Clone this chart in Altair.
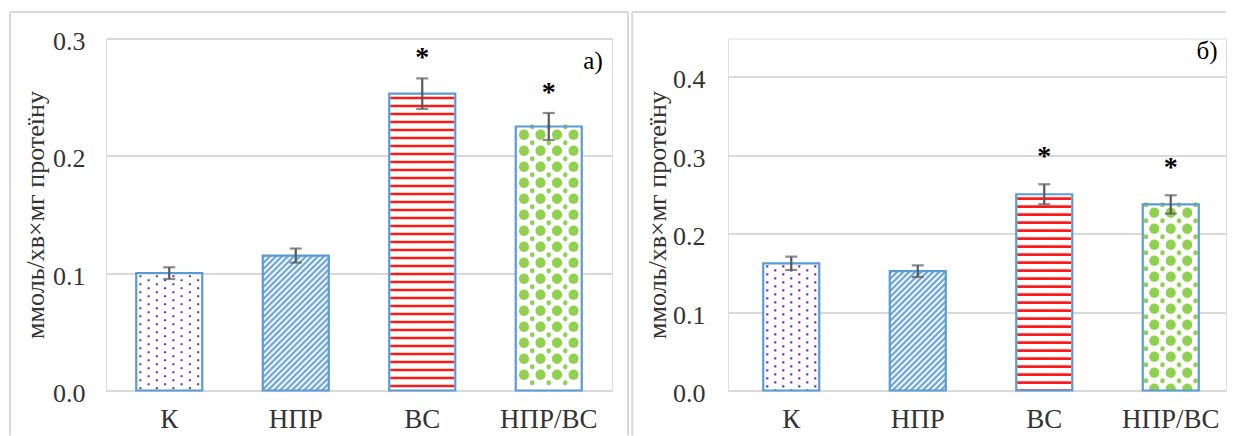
import altair as alt
import pandas as pd

# ---------------- data ----------------
categories = ["К", "НПР", "ВС", "НПР/ВС"]
values_a = [0.100, 0.115, 0.253, 0.225]
errors_a = [0.005, 0.006, 0.013, 0.0115]
values_b = [0.162, 0.152, 0.250, 0.237]
errors_b = [0.0085, 0.0074, 0.0127, 0.0117]
signif_a = ["", "", "*", "*"]
signif_b = ["", "", "*", "*"]
ticks_a = [0.0, 0.1, 0.2, 0.3]
ticks_b = [0.0, 0.1, 0.2, 0.3, 0.4]
y_title = "ммоль/хв×мг протеїну"
panel_names = ["а)", "б)"]

# ---------------- style ----------------
FONT = "Liberation Serif"
TEXT = "#333333"
GRID = "#d9d9d9"
BLUE = "#5b9bd5"
RED = "#ff1a1a"
GREEN = "#92d050"
PURPLE = "#7030a0"
ERR = "#595959"
H = 352
STEP = 126.5


def frame(values, errors, marks):
    df = pd.DataFrame({"cat": categories, "value": values, "err": errors, "sig": marks})
    df["lo"] = df["value"] - df["err"]
    df["hi"] = df["value"] + df["err"]
    return df


def panel(values, errors, marks, ticks, dmax, width, bw, first, name, name_xy, lab_pad, ast_dy, border):
    df = frame(values, errors, marks)
    one = pd.DataFrame({"k": [0]})
    pi = 1 - bw / STEP
    po = (width / STEP - 4 + pi) / 2
    left_over = width - STEP * (4 - pi)
    align = first / left_over
    xs = alt.Scale(domain=categories, paddingInner=pi, paddingOuter=po, align=align)
    xaxis = alt.Axis(labelFont=FONT, labelFontSize=27, labelColor=TEXT, labelPadding=16,
                     labelAngle=0, domain=False, ticks=False, grid=False)
    x = alt.X("cat:N", sort=categories, scale=xs, axis=xaxis, title=None)
    xo = alt.XOffset("px:Q", scale=alt.Scale(domain=[0, bw], range=[0, bw]))
    ys = alt.Scale(domain=[0, dmax], nice=False, zero=True)
    yaxis = alt.Axis(values=ticks, format=".1f", grid=True, gridColor=GRID, gridWidth=2,
                     domain=False, ticks=False, labelFont=FONT, labelFontSize=26,
                     labelColor=TEXT, labelPadding=lab_pad, labelOffset=3,
                     titleFont=FONT, titleFontSize=26, titleFontWeight="normal",
                     titleColor=TEXT, titleX=-71, titleY=H / 2, titleBaseline="middle")

    def Y(f):
        return alt.Y(f"{f}:Q", scale=ys, axis=yaxis, title=y_title)

    zero = alt.Y2(datum=0)
    base = alt.Chart(df)
    layers = []
    # white base of every bar
    layers.append(base.mark_bar(fill="#ffffff", size=bw).encode(x=x, y=Y("value")))

    # diagonal hatch for НПР: 1px dashed columns whose dash phase shifts column by column
    period = 6
    for r in range(period):
        layers.append(base.transform_filter("datum.cat == 'НПР'")
                      .transform_calculate(col=f"sequence(0, {bw})")
                      .transform_flatten(["col"])
                      .transform_filter(f"datum.col % {period} == {r}")
                      .transform_calculate(px="datum.col + 0.5")
                      .mark_rule(color=BLUE, strokeWidth=1.15, strokeDash=[3, 3], strokeDashOffset=r)
                      .encode(x=x, xOffset=xo, y=Y("value"), y2=zero))

    # horizontal stripes for ВС
    layers.append(base.transform_filter("datum.cat == 'ВС'").mark_rule(
        color=RED, strokeWidth=bw - 2, strokeDash=[2.7, 5.3], strokeDashOffset=-3).encode(
        x=x, y=Y("value"), y2=zero))

    # purple dots for К
    ncol = int(round(bw / 8.0))
    for parity, off in ((0, -2), (1, -6)):
        layers.append(base.transform_filter("datum.cat == 'К'")
                      .transform_calculate(col=f"sequence(0, {ncol})")
                      .transform_flatten(["col"])
                      .transform_filter(f"datum.col % 2 == {parity}")
                      .transform_calculate(px=f"(datum.col + 0.5) * {bw / ncol}")
                      .mark_rule(color=PURPLE, strokeWidth=2.2, strokeDash=[2.2, 5.8],
                                 strokeDashOffset=off, opacity=0.95)
                      .encode(x=x, xOffset=xo, y=Y("value"), y2=zero))

    # green blobs for НПР/ВС: large dots on a grid with small dots between them
    gstep = 16.5
    gn = int(bw // gstep)
    g0 = (bw - gstep * gn) / 2 + gstep / 2
    layers.append(base.transform_filter("datum.cat == 'НПР/ВС'")
                  .transform_calculate(col=f"sequence(0, {gn})")
                  .transform_flatten(["col"])
                  .transform_calculate(px=f"{g0} + datum.col * {gstep}")
                  .mark_rule(color=GREEN, strokeWidth=10, strokeDash=[0.5, 15.5],
                             strokeDashOffset=8, strokeCap="round", clip=True)
                  .encode(x=x, xOffset=xo, y=Y("value"), y2=zero))
    layers.append(base.transform_filter("datum.cat == 'НПР/ВС'")
                  .transform_calculate(col=f"sequence(0, {gn + 1})")
                  .transform_flatten(["col"])
                  .transform_calculate(px=f"{g0 - gstep / 2} + datum.col * {gstep}")
                  .transform_filter(f"datum.px >= 2 && datum.px <= {bw - 2}")
                  .mark_rule(color=GREEN, strokeWidth=4.5, strokeDash=[0.5, 15.5],
                             strokeDashOffset=0, strokeCap="round", clip=True)
                  .encode(x=x, xOffset=xo, y=Y("value"), y2=zero))

    # blue outline of bars
    layers.append(base.mark_bar(fillOpacity=0, stroke=BLUE, strokeWidth=2.2, size=bw).encode(x=x, y=Y("value")))
    # error bars
    layers.append(base.mark_rule(color=ERR, strokeWidth=2.2).encode(x=x, y=Y("lo"), y2=alt.Y2("hi:Q")))
    layers.append(base.mark_tick(color=ERR, thickness=2.2, size=12).encode(x=x, y=Y("lo")))
    layers.append(base.mark_tick(color=ERR, thickness=2.2, size=12).encode(x=x, y=Y("hi")))
    # significance asterisks
    layers.append(base.mark_text(font=FONT, fontSize=28, fontWeight="bold", color="#000000",
                                 baseline="alphabetic", dy=ast_dy).encode(x=x, y=Y("hi"), text="sig:N"))
    # panel letter
    layers.append(alt.Chart(one).mark_text(text=name, font=FONT, fontSize=25, color="#000000",
                                           align="center", baseline="middle")
                  .encode(x=alt.value(name_xy[0]), y=alt.value(name_xy[1])))
    # chart-area border (left, top, right)
    bl, bt, br, bb, right_edge = border
    layers.append(alt.Chart(one).mark_rule(color=GRID, strokeWidth=2).encode(
        x=alt.value(bl), y=alt.value(bt), y2=alt.value(bb)))
    layers.append(alt.Chart(one).mark_rule(color=GRID, strokeWidth=2).encode(
        x=alt.value(bl), x2=alt.value(br), y=alt.value(bt)))
    if right_edge:
        layers.append(alt.Chart(one).mark_rule(color=GRID, strokeWidth=2).encode(
            x=alt.value(br), y=alt.value(bt), y2=alt.value(bb)))
    return alt.layer(*layers).properties(width=width, height=H)


pa = panel(values_a, errors_a, signif_a, ticks_a, 0.3, 506, 66, 30.25, panel_names[0], (487, 22), 21, -12.5,
           (-96, -26.5, 522, 397, True))
pb = panel(values_b, errors_b, signif_b, ticks_b, 0.4 * 352 / 314, 498, 56, 35.25, panel_names[1], (479, 12), 23, -19,
           (-95.75, -26.5, 498, 397, False))

chart = alt.hconcat(pa, pb, spacing=0).properties(
    padding={"left": 0, "top": 2.5, "right": 0, "bottom": 0}
).configure_view(strokeWidth=0).configure(background="#ffffff")

chart.save("out.html", embed_options={"renderer": "svg", "actions": False})
